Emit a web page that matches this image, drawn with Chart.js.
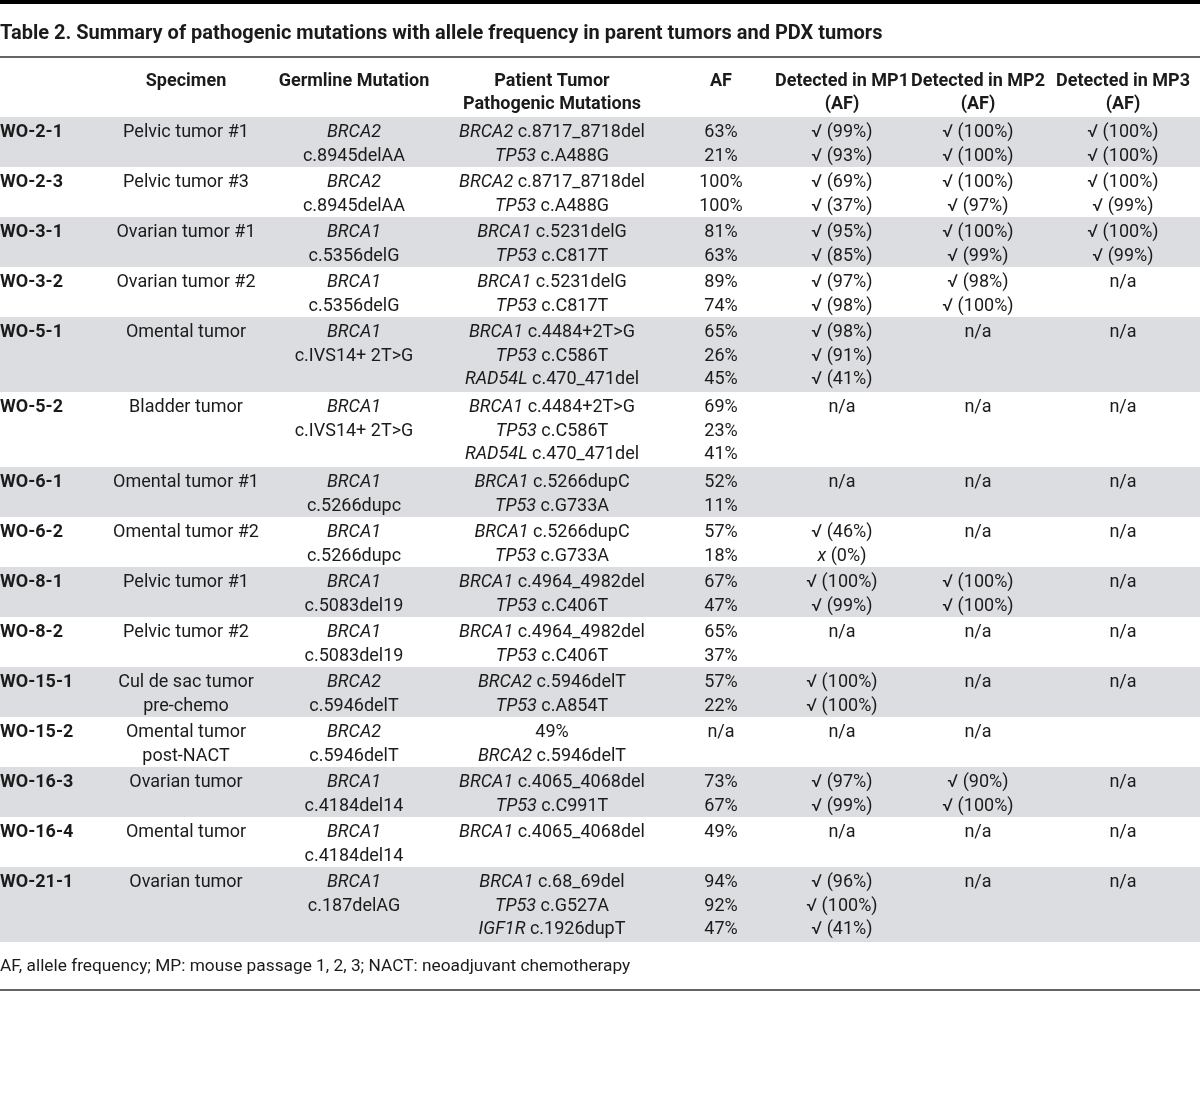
<!DOCTYPE html>
<html><head><meta charset="utf-8">
<script src="https://cdn.jsdelivr.net/npm/chart.js@4"></script>
<style>html,body{margin:0;padding:0;background:#fff}canvas{display:block}</style>
</head><body>
<canvas id="c" width="1200" height="1099"></canvas>
<script>
const title = "Table 2. Summary of pathogenic mutations with allele frequency in parent tumors and PDX tumors";
const headers = [[""],["Specimen"],["Germline Mutation"],["Patient Tumor","Pathogenic Mutations"],["AF"],["Detected in MP1","(AF)"],["Detected in MP2","(AF)"],["Detected in MP3","(AF)"]];
const footnote = "AF, allele frequency; MP: mouse passage 1, 2, 3; NACT: neoadjuvant chemotherapy";

const ids = ["WO-2-1","WO-2-3","WO-3-1","WO-3-2","WO-5-1","WO-5-2","WO-6-1","WO-6-2","WO-8-1","WO-8-2","WO-15-1","WO-15-2","WO-16-3","WO-16-4","WO-21-1"];
const specimens = [["Pelvic tumor #1"],["Pelvic tumor #3"],["Ovarian tumor #1"],["Ovarian tumor #2"],["Omental tumor"],["Bladder tumor"],["Omental tumor #1"],["Omental tumor #2"],["Pelvic tumor #1"],["Pelvic tumor #2"],["Cul de sac tumor","pre-chemo"],["Omental tumor","post-NACT"],["Ovarian tumor"],["Omental tumor"],["Ovarian tumor"]];
const germlineGenes = ["BRCA2","BRCA2","BRCA1","BRCA1","BRCA1","BRCA1","BRCA1","BRCA1","BRCA1","BRCA1","BRCA2","BRCA2","BRCA1","BRCA1","BRCA1"];
const germlineVariants = ["c.8945delAA","c.8945delAA","c.5356delG","c.5356delG","c.IVS14+ 2T>G","c.IVS14+ 2T>G","c.5266dupc","c.5266dupc","c.5083del19","c.5083del19","c.5946delT","c.5946delT","c.4184del14","c.4184del14","c.187delAG"];
const tumorMutations = [
  ["BRCA2 c.8717_8718del","TP53 c.A488G"],
  ["BRCA2 c.8717_8718del","TP53 c.A488G"],
  ["BRCA1 c.5231delG","TP53 c.C817T"],
  ["BRCA1 c.5231delG","TP53 c.C817T"],
  ["BRCA1 c.4484+2T>G","TP53 c.C586T","RAD54L c.470_471del"],
  ["BRCA1 c.4484+2T>G","TP53 c.C586T","RAD54L c.470_471del"],
  ["BRCA1 c.5266dupC","TP53 c.G733A"],
  ["BRCA1 c.5266dupC","TP53 c.G733A"],
  ["BRCA1 c.4964_4982del","TP53 c.C406T"],
  ["BRCA1 c.4964_4982del","TP53 c.C406T"],
  ["BRCA2 c.5946delT","TP53 c.A854T"],
  ["49%","BRCA2 c.5946delT"],
  ["BRCA1 c.4065_4068del","TP53 c.C991T"],
  ["BRCA1 c.4065_4068del"],
  ["BRCA1 c.68_69del","TP53 c.G527A","IGF1R c.1926dupT"]
];
const alleleFreq = [["63%","21%"],["100%","100%"],["81%","63%"],["89%","74%"],["65%","26%","45%"],["69%","23%","41%"],["52%","11%"],["57%","18%"],["67%","47%"],["65%","37%"],["57%","22%"],["n/a"],["73%","67%"],["49%"],["94%","92%","47%"]];
const mp1 = [["√ (99%)","√ (93%)"],["√ (69%)","√ (37%)"],["√ (95%)","√ (85%)"],["√ (97%)","√ (98%)"],["√ (98%)","√ (91%)","√ (41%)"],["n/a"],["n/a"],["√ (46%)","x (0%)"],["√ (100%)","√ (99%)"],["n/a"],["√ (100%)","√ (100%)"],["n/a"],["√ (97%)","√ (99%)"],["n/a"],["√ (96%)","√ (100%)","√ (41%)"]];
const mp2 = [["√ (100%)","√ (100%)"],["√ (100%)","√ (97%)"],["√ (100%)","√ (99%)"],["√ (98%)","√ (100%)"],["n/a"],["n/a"],["n/a"],["n/a"],["√ (100%)","√ (100%)"],["n/a"],["n/a"],["n/a"],["√ (90%)","√ (100%)"],["n/a"],["n/a"]];
const mp3 = [["√ (100%)","√ (100%)"],["√ (100%)","√ (99%)"],["√ (100%)","√ (99%)"],["n/a"],["n/a"],["n/a"],["n/a"],["n/a"],["n/a"],["n/a"],["n/a"],[""],["n/a"],["n/a"],["n/a"]];

// layout (style) constants
const L = {
  colCenters: [0, 186, 354, 552, 721, 842, 978, 1123],
  titleY: 34, titleRule: 57, head1: 81, headStep: 23,
  tableTop: 117, rowPerLine: 25, lineStep: 23.5, firstLine: 15.5,
  footGap: 24.5, bottomGap: 48,
  font: "Roboto", size: 18, headSize: 18, titleSize: 20, footSize: 17.3,
  band: "#dcdde0", ink: "#1b1b1b"
};

function drawRich(ctx, parts, cx, cy, align) {
  let w = 0;
  parts.forEach(p => { ctx.font = p.font; p.w = ctx.measureText(p.t).width; w += p.w; });
  let x = align === 'left' ? cx : cx - w / 2;
  ctx.textAlign = 'left';
  parts.forEach(p => { ctx.font = p.font; ctx.fillText(p.t, x, cy); x += p.w; });
}
function nf(s){return `${s}px ${L.font}`;}
function itf(s){return `italic ${s}px ${L.font}`;}
function bf(s){return `bold ${s}px ${L.font}`;}

function mutParts(s) {
  const i = s.indexOf(' ');
  if (i > 0 && /^[A-Z0-9]+$/.test(s.slice(0, i))) {
    return [{t: s.slice(0, i), font: itf(L.size)}, {t: s.slice(i), font: nf(L.size)}];
  }
  return [{t: s, font: nf(L.size)}];
}
function mpParts(s) {
  if (s.startsWith('x ')) return [{t: 'x', font: itf(L.size)}, {t: s.slice(1), font: nf(L.size)}];
  return [{t: s, font: nf(L.size)}];
}

const tablePlugin = {
  id: 'tablePlugin',
  afterDraw(chart) {
    const ctx = chart.ctx, xs = chart.scales.x, ys = chart.scales.y;
    const X = v => xs.getPixelForValue(v), Y = v => ys.getPixelForValue(v);
    ctx.save();
    ctx.fillStyle = L.ink; ctx.textBaseline = 'middle';
    ctx.fillStyle = '#000'; ctx.fillRect(X(0), Y(0), X(1200) - X(0), Y(4) - Y(0));
    ctx.fillStyle = L.ink;
    ctx.font = bf(L.titleSize); ctx.textAlign = 'left';
    ctx.fillText(title, X(0), Y(L.titleY));
    ctx.fillStyle = '#333'; ctx.fillRect(X(0), Y(L.titleRule - 0.75), X(1200) - X(0), 1.5);
    ctx.fillStyle = L.ink;
    headers.forEach((h, c) => h.forEach((t, k) => {
      ctx.font = bf(L.headSize); ctx.textAlign = c === 0 ? 'left' : 'center';
      ctx.fillText(t, X(L.colCenters[c]), Y(L.head1 + k * L.headStep));
    }));
    let top = L.tableTop;
    ids.forEach((id, r) => {
      const n = Math.max(specimens[r].length, 2, tumorMutations[r].length, alleleFreq[r].length, mp1[r].length, mp2[r].length, mp3[r].length);
      const h = n * L.rowPerLine;
      if (r % 2 === 0) { ctx.fillStyle = L.band; ctx.fillRect(X(0), Y(top), X(1200) - X(0), Y(top + h) - Y(top)); }
      ctx.fillStyle = L.ink;
      const ly = k => Y(top + L.firstLine + k * L.lineStep);
      drawRich(ctx, [{t: id, font: bf(L.size)}], X(L.colCenters[0]), ly(0), 'left');
      specimens[r].forEach((t, k) => drawRich(ctx, [{t, font: nf(L.size)}], X(L.colCenters[1]), ly(k)));
      drawRich(ctx, [{t: germlineGenes[r], font: itf(L.size)}], X(L.colCenters[2]), ly(0));
      drawRich(ctx, [{t: germlineVariants[r], font: nf(L.size)}], X(L.colCenters[2]), ly(1));
      tumorMutations[r].forEach((t, k) => drawRich(ctx, mutParts(t), X(L.colCenters[3]), ly(k)));
      alleleFreq[r].forEach((t, k) => drawRich(ctx, [{t, font: nf(L.size)}], X(L.colCenters[4]), ly(k)));
      [mp1, mp2, mp3].forEach((arr, j) => arr[r].forEach((t, k) => { if (t) drawRich(ctx, mpParts(t), X(L.colCenters[5 + j]), ly(k)); }));
      top += h;
    });
    ctx.fillStyle = L.ink;
    drawRich(ctx, [{t: footnote, font: nf(L.footSize)}], X(0), Y(top + L.footGap), 'left');
    ctx.fillStyle = '#333'; ctx.fillRect(X(0), Y(top + L.bottomGap - 0.75), X(1200) - X(0), 1.5);
    ctx.restore();
  }
};

new Chart(document.getElementById('c'), {
  type: 'scatter',
  data: { datasets: [{ data: [], pointRadius: 0 }] },
  options: {
    responsive: false, animation: false, devicePixelRatio: 1,
    layout: { padding: 0 },
    plugins: { legend: { display: false }, tooltip: { enabled: false } },
    scales: {
      x: { type: 'linear', min: 0, max: 1200, display: false },
      y: { type: 'linear', min: 0, max: 1099, reverse: true, display: false }
    }
  },
  plugins: [tablePlugin]
});
</script>
</body></html>
